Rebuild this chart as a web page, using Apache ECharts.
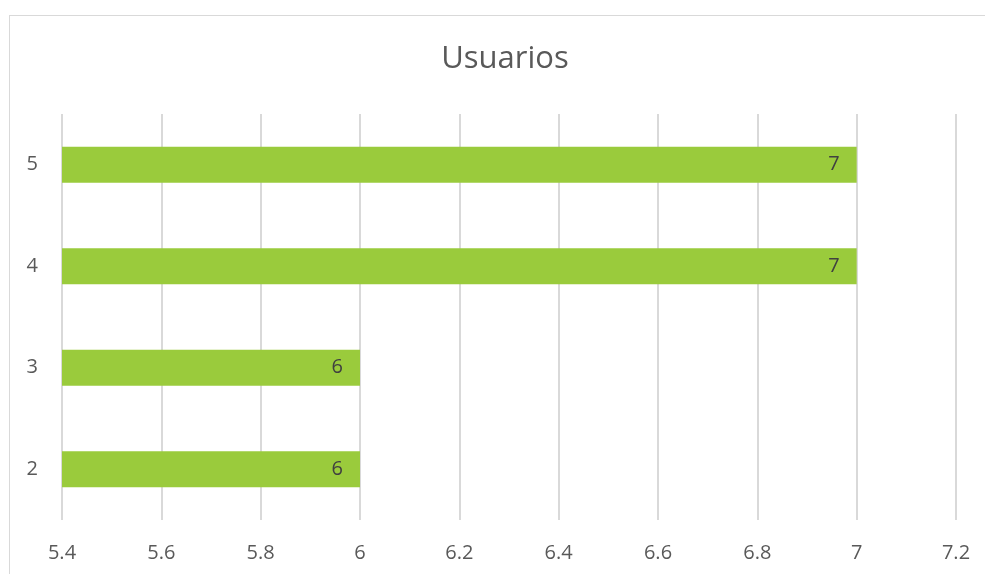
<!DOCTYPE html>
<html><head><meta charset="utf-8">
<script src="https://cdn.jsdelivr.net/npm/echarts@6/dist/echarts.min.js"></script>
<style>
html,body{margin:0;padding:0;background:#fff;overflow:hidden;}
#frame{position:absolute;left:9px;top:15px;width:1200px;height:800px;border:1px solid #d9d9d9;box-sizing:border-box;}
#c{position:absolute;left:0;top:0;width:985px;height:574px;}
</style></head>
<body>
<div id="frame"></div>
<div id="c"></div>
<script>
const categories = ['2','3','4','5'];
const values = [6, 6, 7, 7];
const titleText = 'Usuarios';
const xMin = 5.4, xMax = 7.2, xStep = 0.2;

const chart = echarts.init(document.getElementById('c'));
const font = '"Open Sans", sans-serif';
chart.setOption({
  animation:false,
  title:{text:titleText,left:500,top:39,textAlign:'center',textStyle:{fontFamily:font,fontSize:31,fontWeight:'normal',color:'#595959'}},
  grid:{left:62,right:29,top:114,bottom:54,containLabel:false},
  xAxis:{type:'value',min:xMin,max:xMax,interval:xStep,
    axisLine:{show:false},axisTick:{show:false},
    splitLine:{lineStyle:{color:'#d9d9d9',width:2}},
    axisLabel:{margin:23,fontFamily:font,fontSize:20,color:'#595959',
      formatter:v=>String(Math.round(v*10)/10)}},
  yAxis:{type:'category',data:categories,
    axisLine:{show:false},axisTick:{show:false},
    axisLabel:{margin:24,fontFamily:font,fontSize:20,color:'#595959'}},
  series:[{type:'bar',data:values,barWidth:36,
    itemStyle:{color:'#9acb3c'},
    label:{show:true,position:'insideRight',distance:17,fontFamily:font,fontSize:20,color:'#404040'}}]
});
</script>
</body></html>
